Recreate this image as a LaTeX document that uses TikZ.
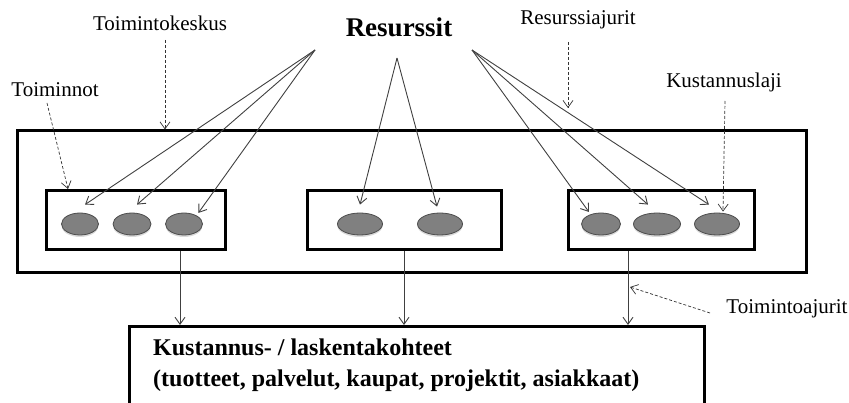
\documentclass[tikz,border=0pt]{standalone}
\usepackage{fontspec}
\setmainfont{Liberation Serif}
\usetikzlibrary{arrows.meta,shapes.geometric,shadows}

\begin{document}
\begin{tikzpicture}[x=1pt,y=-1pt,
    box/.style={draw,line width=3pt,inner sep=0pt},
    obj/.style={ellipse,draw=black!70,fill=black!50,line width=0.8pt,
        minimum height=22pt,inner sep=0pt,
        drop shadow={shadow xshift=0pt,shadow yshift=-2pt,opacity=0.3}},
    fan/.style={draw=black!75,line width=0.9pt,-{Straight Barb[length=7pt,width=10pt]}},
    note/.style={draw=black!80,densely dashed,line width=0.7pt,-{Straight Barb[length=7pt,width=10pt]}},
    lbl/.style={font=\fontsize{21}{24}\selectfont,inner sep=0pt}]
    \useasboundingbox (0,0) rectangle (849,403);
    \clip (0,0) rectangle (849,403);

    % activity centre with its three groups of activities
    \node[box,minimum width=789pt,minimum height=142pt] (centre) at (411.5,202) {};
    \node[box,minimum width=179pt,minimum height=59pt] (lbox) at (135.5,220.5) {};
    \node[box,minimum width=194pt,minimum height=59pt] (mbox) at (404,220.5) {};
    \node[box,minimum width=186pt,minimum height=59pt] (rbox) at (661,220.5) {};

    \node[obj,minimum width=37pt] (l1) at (80,224) {};
    \node[obj,minimum width=38pt] (l2) at (132,224) {};
    \node[obj,minimum width=37pt] (l3) at (184,224) {};
    \node[obj,minimum width=45pt] (m1) at (360,224) {};
    \node[obj,minimum width=45pt] (m2) at (440,224) {};
    \node[obj,minimum width=39pt] (r1) at (601,224) {};
    \node[obj,minimum width=47pt] (r2) at (657,224) {};
    \node[obj,minimum width=45pt] (r3) at (717,224) {};

    % cost objects
    \node[box,minimum width=575pt,minimum height=100pt,anchor=north west] (cost) at (128,325) {};
    \node[anchor=west,align=left,inner sep=0pt,
        font=\bfseries\fontsize{24}{31}\selectfont] (costtxt) at (153,365)
        {Kustannus- / laskentakohteet\\(tuotteet, palvelut, kaupat, projektit, asiakkaat)};

    % resources and resource drivers
    \node[font=\bfseries\fontsize{27}{30}\selectfont,inner sep=0pt] (res) at (399,27) {Resurssit};
    \coordinate (srcL) at (315,50);
    \coordinate (srcM) at (397,58);
    \coordinate (srcR) at (472,50);

    \draw[fan] (srcL) -- ([xshift=5pt,yshift=8pt]l1.north);
    \draw[fan] (srcL) -- ([xshift=5pt,yshift=8pt]l2.north);
    \draw[fan] (srcL) -- ([xshift=1pt,yshift=3pt]l3.north east);
    \draw[fan] (srcM) -- ([yshift=8pt]m1.north);
    \draw[fan] (srcM) -- ([xshift=-3pt,yshift=6pt]m2.north);
    \draw[fan] (srcR) -- ([xshift=2pt,yshift=4pt]r1.north west);
    \draw[fan] (srcR) -- ([xshift=-9pt,yshift=8pt]r2.north);
    \draw[fan] (srcR) -- ([xshift=-8pt,yshift=8pt]r3.north);

    % activity drivers
    \draw[fan] (180,0 |- lbox.south) -- (180,0 |- cost.north);
    \draw[fan] (404,0 |- mbox.south) -- (404,0 |- cost.north);
    \draw[fan] (628,0 |- rbox.south) -- (628,0 |- cost.north);

    % explanations
    \node[lbl] (centrelbl) at (160,23) {Toimintokeskus};
    \node[lbl] (actlbl) at (55,90) {Toiminnot};
    \node[lbl] (drvlbl) at (578,20) {Resurssiajurit};
    \node[lbl] (typelbl) at (724,82) {Kustannuslaji};
    \node[lbl] (actdrvlbl) at (787,309) {Toimintoajurit};
    \coordinate (drvpt) at (568,108);
    \coordinate (actdrvpt) at (630,287);

    \draw[note] (165,40) -- (165,0 |- centre.north);
    \draw[note] (47,103) -- (68,189);
    \draw[note] (568,42) -- (drvpt);
    \draw[note] (725,101) -- ([xshift=6pt,yshift=1pt]r3.north);
    \draw[note] (710,313) -- (actdrvpt);
\end{tikzpicture}
\end{document}
